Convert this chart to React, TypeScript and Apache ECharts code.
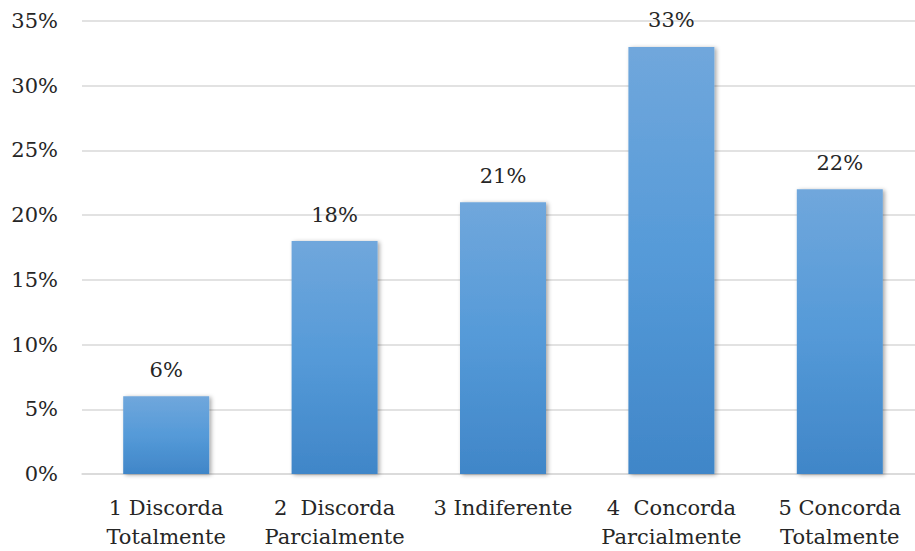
import React, { useEffect, useRef } from "react";
import * as echarts from "echarts";

const categories: string[] = [
  "1 Discorda\nTotalmente",
  "2  Discorda\nParcialmente",
  "3 Indiferente",
  "4  Concorda\nParcialmente",
  "5 Concorda\nTotalmente",
];
const percentages: number[] = [6, 18, 21, 33, 22];
const yTicks: number[] = [0, 5, 10, 15, 20, 25, 30, 35];

const FONT = "DejaVu Serif";
const TEXT = "#262626";

export default function App() {
  const ref = useRef<HTMLDivElement>(null);

  useEffect(() => {
    if (!ref.current) return;
    const chart = echarts.init(ref.current, undefined, { renderer: "svg" });
    chart.setOption({
      animation: false,
      backgroundColor: "#ffffff",
      textStyle: { fontFamily: FONT },
      grid: {
        left: 82,
        top: 21,
        width: 842,
        height: 453,
        outerBoundsMode: "none",
        containLabel: false,
      },
      xAxis: {
        type: "category",
        data: categories,
        axisTick: { show: false },
        axisLine: { lineStyle: { color: "#d9d9d9", width: 1.5 } },
        axisLabel: {
          color: TEXT,
          fontFamily: FONT,
          fontSize: 21,
          lineHeight: 29,
          margin: 19,
          interval: 0,
        },
      },
      yAxis: {
        type: "value",
        min: yTicks[0],
        max: yTicks[yTicks.length - 1],
        interval: 5,
        axisLine: { show: false },
        axisTick: { show: false },
        splitLine: { lineStyle: { color: "#d9d9d9", width: 1.5 } },
        axisLabel: {
          color: TEXT,
          fontFamily: FONT,
          fontSize: 21,
          margin: 24,
          formatter: (v: number) => `${v}%`,
        },
      },
      series: [
        {
          type: "bar",
          data: percentages,
          barWidth: 86,
          itemStyle: {
            color: new echarts.graphic.LinearGradient(0, 0, 0, 1, [
              { offset: 0, color: "#70a7dc" },
              { offset: 0.5, color: "#559ad8" },
              { offset: 1, color: "#4086c8" },
            ]),
            shadowColor: "rgba(0,0,0,0.35)",
            shadowBlur: 4,
            shadowOffsetX: 2,
            shadowOffsetY: 1,
          },
          label: {
            show: true,
            position: "top",
            distance: 16,
            color: TEXT,
            fontFamily: FONT,
            fontSize: 21,
            formatter: (p: { value: number }) => `${p.value}%`,
          },
        },
      ],
    });
    return () => chart.dispose();
  }, []);

  return (
    <div
      ref={ref}
      style={{ position: "fixed", left: 0, top: 0, width: 915, height: 551 }}
    />
  );
}
